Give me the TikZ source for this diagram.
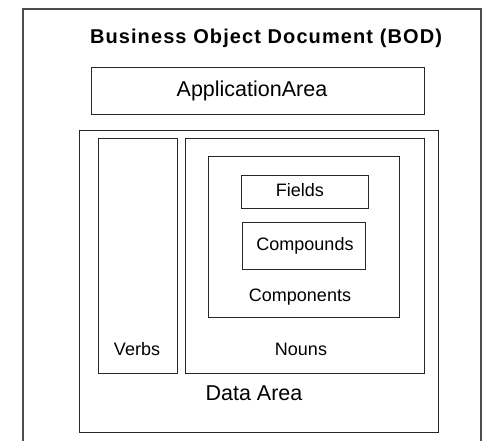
\documentclass[tikz,border=0pt]{standalone}
\usepackage{fontspec}
\setmainfont{Liberation Sans}
\begin{document}
\begin{tikzpicture}[x=1pt,y=-1pt,
  box/.style={draw=black!85, line width=1pt, rectangle, inner sep=0pt},
  lbl/.style={inner sep=0pt, anchor=base, font=\fontsize{18}{20}\selectfont},
  biglbl/.style={inner sep=0pt, anchor=base, font=\fontsize{21.5}{24}\selectfont},
  titlelbl/.style={inner sep=0pt, anchor=base, font=\fontsize{20}{24}\selectfont\bfseries\addfontfeature{LetterSpace=5.5}}]
\useasboundingbox (0,0) rectangle (491,441);
\fill[white] (0,0) rectangle (491,441);
% outer frame (open at bottom)
\draw[draw=black!70, line width=1.3pt] (23,441) -- (23,9) -- (481,9) -- (481,441);
\node[titlelbl] (title) at (266,44) {Business Object Document (BOD)};
% application area
\node[box, minimum width=333pt, minimum height=47pt] (app) at (257.5,91.5) {};
\node[biglbl] (applbl) at (252,96.5) {ApplicationArea};
% data area
\node[box, minimum width=359pt, minimum height=302pt] (data) at (258.5,282) {};
\node[biglbl] (datalbl) at (254,401) {Data Area};
% verbs
\node[box, minimum width=79pt, minimum height=235pt] (verbs) at (137.5,256.5) {};
\node[lbl] (verbslbl) at (137,356) {Verbs};
% nouns
\node[box, minimum width=239pt, minimum height=235pt] (nouns) at (304.5,256.5) {};
\node[lbl] (nounslbl) at (301,356) {Nouns};
% components
\node[box, minimum width=191pt, minimum height=161pt] (comp) at (303.5,237.5) {};
\node[lbl] (complbl) at (300,302) {Components};
% fields
\node[box, minimum width=127pt, minimum height=33pt] (fields) at (304.5,192.5) {};
\node[lbl] (fieldslbl) at (300,197) {Fields};
% compounds
\node[box, minimum width=123pt, minimum height=47pt] (cmpd) at (303.5,246.5) {};
\node[lbl] (cmpdlbl) at (305,250.5) {Compounds};
\end{tikzpicture}
\end{document}
